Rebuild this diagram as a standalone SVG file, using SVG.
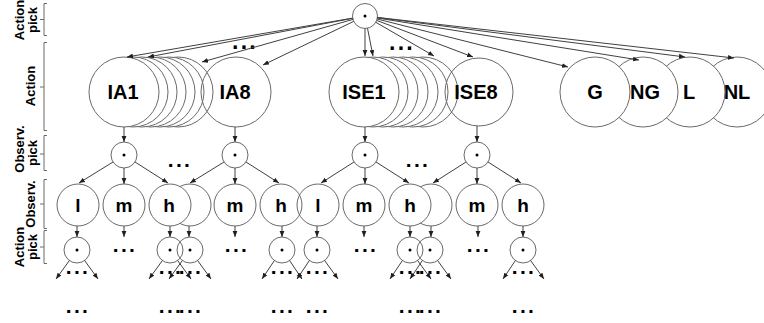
<svg xmlns="http://www.w3.org/2000/svg" width="764" height="323" viewBox="0 0 764 323">
  <style>
    .c { fill: #ffffff; stroke: #6a6a6a; stroke-width: 1; }
    .o { fill: none; stroke: #6a6a6a; stroke-width: 1; }
    .ln { fill: none; stroke: #404040; stroke-width: 1; marker-end: url(#ah); }
    .br { fill: none; stroke: #6a6a6a; stroke-width: 1; }
    .dot { fill: #000000; }
    .big { font-family: "Liberation Sans", Arial, sans-serif; font-weight: bold; font-size: 20px; text-anchor: middle; fill: #000; }
    .mid { font-family: "Liberation Sans", Arial, sans-serif; font-weight: bold; font-size: 19px; text-anchor: middle; fill: #000; }
    .lab { font-family: "Liberation Sans", Arial, sans-serif; font-weight: bold; font-size: 13px; text-anchor: middle; fill: #000; }
    .el { font-family: "Liberation Sans", Arial, sans-serif; font-weight: bold; font-size: 21px; letter-spacing: 2.4px; text-anchor: middle; fill: #000; }
    .elb { font-family: "Liberation Sans", Arial, sans-serif; font-weight: bold; font-size: 23px; letter-spacing: 2.2px; text-anchor: middle; fill: #000; }
  </style>
  <defs>
    <marker id="ah" viewBox="0 0 6 6" refX="6" refY="3" markerWidth="6" markerHeight="6" markerUnits="userSpaceOnUse" orient="auto">
      <path d="M0,0.6 L6,3 L0,5.4 Z" fill="#202020"/>
    </marker>
  </defs>

  <!-- level labels with brackets -->
  <g id="labels">
    <text class="lab" transform="translate(24,20) rotate(-90)">Action</text>
    <text class="lab" transform="translate(37,20) rotate(-90)">pick</text>
    <path class="br" d="M47,3.5 H44 V35.5 H47 M44,19.5 H40"/>

    <text class="lab" transform="translate(35,86) rotate(-90)">Action</text>
    <path class="br" d="M47,42.5 H44 V130.5 H47 M44,87 H40"/>

    <text class="lab" transform="translate(24,149) rotate(-90)">Observ.</text>
    <text class="lab" transform="translate(37,153) rotate(-90)">pick</text>
    <path class="br" d="M47,135.5 H44 V170.5 H47 M44,154 H40"/>

    <text class="lab" transform="translate(35,204) rotate(-90)">Observ.</text>
    <path class="br" d="M47,179.5 H44 V228.5 H47 M44,204 H40"/>

    <text class="lab" transform="translate(24,247) rotate(-90)">Action</text>
    <text class="lab" transform="translate(37,247) rotate(-90)">pick</text>
    <path class="br" d="M47,230.5 H44 V263.5 H47 M44,247 H40"/>
  </g>

  <!-- root action pick -->
  <g id="root">
    <circle class="c" cx="365" cy="16" r="12.5"/>
    <circle class="dot" cx="365" cy="16" r="1.5"/>
  </g>

  <!-- action nodes -->
  <g id="ia-stack">
    <circle class="c" cx="178" cy="92" r="35"/>
    <circle class="c" cx="169" cy="92" r="35"/>
    <circle class="c" cx="160" cy="92" r="35"/>
    <circle class="c" cx="151" cy="92" r="35"/>
    <circle class="c" cx="142" cy="92" r="35"/>
    <circle class="c" cx="133" cy="92" r="35"/>
  </g>
  <g id="IA1">
    <circle class="c" cx="124" cy="92" r="35"/>
    <text class="big" x="123" y="99">IA1</text>
  </g>
  <g id="IA8">
    <circle class="o" cx="236" cy="92" r="35"/>
    <text class="big" x="235" y="99">IA8</text>
  </g>

  <g id="ise-stack">
    <circle class="c" cx="423" cy="92" r="35"/>
    <circle class="c" cx="413" cy="92" r="35"/>
    <circle class="c" cx="403" cy="92" r="35"/>
    <circle class="c" cx="393" cy="92" r="35"/>
    <circle class="c" cx="383" cy="92" r="35"/>
    <circle class="c" cx="373" cy="92" r="35"/>
  </g>
  <g id="ISE1">
    <circle class="c" cx="364" cy="92" r="35"/>
    <text class="big" x="364" y="99">ISE1</text>
  </g>
  <g id="ISE8">
    <circle class="o" cx="479" cy="92" r="34"/>
    <text class="big" x="476" y="99">ISE8</text>
  </g>

  <g id="NL">
    <circle class="c" cx="737" cy="92" r="35"/>
    <text class="big" x="737" y="99">NL</text>
  </g>
  <g id="L">
    <circle class="c" cx="690" cy="92" r="35"/>
    <text class="big" x="689" y="99">L</text>
  </g>
  <g id="NG">
    <circle class="c" cx="643" cy="92" r="35"/>
    <text class="big" x="645" y="99">NG</text>
  </g>
  <g id="G">
    <circle class="c" cx="595" cy="92" r="35"/>
    <text class="big" x="595" y="99">G</text>
  </g>

  <!-- observation picks -->
  <g id="op-IA1"><circle class="c" cx="124" cy="155" r="13"/><circle class="dot" cx="124" cy="155" r="1.5"/></g>
  <g id="op-IA8"><circle class="c" cx="235" cy="155" r="13"/><circle class="dot" cx="235" cy="155" r="1.5"/></g>
  <g id="op-ISE1"><circle class="c" cx="365" cy="155" r="13"/><circle class="dot" cx="365" cy="155" r="1.5"/></g>
  <g id="op-ISE8"><circle class="c" cx="477" cy="155" r="13"/><circle class="dot" cx="477" cy="155" r="1.5"/></g>

  <!-- observations -->
  <g id="ob-IA1-l"><circle class="c" cx="78" cy="205" r="21"/><text class="mid" x="78" y="212">l</text></g>
  <g id="ob-IA1-m"><circle class="c" cx="124" cy="205" r="21"/><text class="mid" x="124" y="212">m</text></g>
  <g id="ob-IA8-l"><circle class="c" cx="190" cy="205" r="21"/></g>
  <g id="ob-IA1-h"><circle class="c" cx="170" cy="205" r="21"/><text class="mid" x="169" y="212">h</text></g>
  <g id="ob-IA8-m"><circle class="c" cx="235" cy="205" r="21"/><text class="mid" x="235" y="212">m</text></g>
  <g id="ob-ISE1-l"><circle class="c" cx="318" cy="205" r="21"/><text class="mid" x="318" y="212">l</text></g>
  <g id="ob-IA8-h"><circle class="o" cx="281" cy="205" r="21"/><text class="mid" x="281" y="212">h</text></g>
  <g id="ob-ISE1-m"><circle class="c" cx="364" cy="205" r="21"/><text class="mid" x="364" y="212">m</text></g>
  <g id="ob-ISE8-l"><circle class="c" cx="431" cy="205" r="21"/></g>
  <g id="ob-ISE1-h"><circle class="c" cx="410" cy="205" r="21"/><text class="mid" x="410" y="212">h</text></g>
  <g id="ob-ISE8-m"><circle class="c" cx="477" cy="205" r="21"/><text class="mid" x="477" y="212">m</text></g>
  <g id="ob-ISE8-h"><circle class="c" cx="523" cy="205" r="21"/><text class="mid" x="523" y="212">h</text></g>

  <!-- next action picks -->
  <g id="ap-IA1-l"><circle class="c" cx="77" cy="250" r="13"/><circle class="dot" cx="77" cy="250" r="1.5"/></g>
  <g id="ap-IA8-l"><circle class="o" cx="190" cy="250" r="13"/><circle class="dot" cx="190" cy="250" r="1.5"/></g>
  <g id="ap-IA1-h"><circle class="o" cx="170" cy="250" r="13"/><circle class="dot" cx="170" cy="250" r="1.5"/></g>
  <g id="ap-IA8-h"><circle class="c" cx="282" cy="250" r="13"/><circle class="dot" cx="282" cy="250" r="1.5"/></g>
  <g id="ap-ISE1-l"><circle class="c" cx="317" cy="250" r="13"/><circle class="dot" cx="317" cy="250" r="1.5"/></g>
  <g id="ap-ISE8-l"><circle class="o" cx="430" cy="250" r="13"/><circle class="dot" cx="430" cy="250" r="1.5"/></g>
  <g id="ap-ISE1-h"><circle class="o" cx="410" cy="250" r="13"/><circle class="dot" cx="410" cy="250" r="1.5"/></g>
  <g id="ap-ISE8-h"><circle class="c" cx="523" cy="250" r="13"/><circle class="dot" cx="523" cy="250" r="1.5"/></g>

  <!-- elided branches -->
  <g id="ellipses">
    <text class="elb" x="245" y="49">...</text>
    <text class="elb" x="402" y="50">...</text>
    <text class="el" x="180" y="167">...</text>
    <text class="el" x="418" y="167">...</text>
    <text class="el" x="125" y="252">...</text>
    <text class="el" x="237" y="252">...</text>
    <text class="el" x="366" y="252">...</text>
    <text class="el" x="479" y="252">...</text>
    <text class="el" x="78" y="274">...</text>
    <text class="el" x="171" y="274">...</text>
    <text class="el" x="191" y="274">...</text>
    <text class="el" x="283" y="274">...</text>
    <text class="el" x="318" y="274">...</text>
    <text class="el" x="411" y="274">...</text>
    <text class="el" x="431" y="274">...</text>
    <text class="el" x="524" y="274">...</text>
    <text class="el" x="78" y="313">...</text>
    <text class="el" x="171" y="313">...</text>
    <text class="el" x="191" y="313">...</text>
    <text class="el" x="283" y="313">...</text>
    <text class="el" x="318" y="313">...</text>
    <text class="el" x="411" y="313">...</text>
    <text class="el" x="431" y="313">...</text>
    <text class="el" x="524" y="313">...</text>
  </g>

  <!-- connectors -->
  <g id="connectors">
    <!-- root to actions -->
    <line class="ln" x1="352.7" y1="18.1" x2="127" y2="57"/>
    <line class="ln" x1="352.7" y1="18.3" x2="148" y2="57"/>
    <line class="ln" x1="353" y1="19.4" x2="202" y2="62"/>
    <line class="ln" x1="353.7" y1="21.4" x2="263" y2="65"/>
    <line class="ln" x1="365" y1="28.5" x2="365" y2="56"/>
    <line class="ln" x1="367.5" y1="28.3" x2="373" y2="56"/>
    <line class="ln" x1="375.8" y1="22.3" x2="434" y2="56"/>
    <line class="ln" x1="376.7" y1="20.4" x2="473" y2="57"/>
    <line class="ln" x1="377.1" y1="19" x2="568" y2="67"/>
    <line class="ln" x1="377.3" y1="18" x2="639" y2="60"/>
    <line class="ln" x1="377.4" y1="17.6" x2="685" y2="57"/>
    <line class="ln" x1="377.4" y1="17.4" x2="734" y2="58"/>

    <!-- actions to observation picks -->
    <line class="ln" x1="124" y1="127" x2="124" y2="142"/>
    <line class="ln" x1="235" y1="127" x2="235" y2="142"/>
    <line class="ln" x1="365" y1="127" x2="365" y2="142"/>
    <line class="ln" x1="477" y1="126" x2="477" y2="142"/>

    <!-- observation picks to observations -->
    <line class="ln" x1="113" y1="162" x2="79" y2="183"/>
    <line class="ln" x1="124" y1="168" x2="124" y2="184"/>
    <line class="ln" x1="135" y1="162" x2="168" y2="183"/>
    <line class="ln" x1="224" y1="162" x2="190" y2="183"/>
    <line class="ln" x1="235" y1="168" x2="235" y2="184"/>
    <line class="ln" x1="246" y1="162" x2="279" y2="183"/>
    <line class="ln" x1="354" y1="162" x2="321" y2="183"/>
    <line class="ln" x1="365" y1="168" x2="365" y2="184"/>
    <line class="ln" x1="376" y1="162" x2="409" y2="183"/>
    <line class="ln" x1="466" y1="162" x2="433" y2="183"/>
    <line class="ln" x1="477" y1="168" x2="477" y2="184"/>
    <line class="ln" x1="488" y1="162" x2="521" y2="183"/>

    <!-- observations to next action picks -->
    <line class="ln" x1="77" y1="226" x2="77" y2="237"/>
    <line class="ln" x1="124" y1="226" x2="124" y2="237"/>
    <line class="ln" x1="170" y1="226" x2="170" y2="237"/>
    <line class="ln" x1="189" y1="226" x2="189" y2="237"/>
    <line class="ln" x1="235" y1="226" x2="235" y2="237"/>
    <line class="ln" x1="282" y1="226" x2="282" y2="237"/>
    <line class="ln" x1="317" y1="226" x2="317" y2="237"/>
    <line class="ln" x1="364" y1="226" x2="364" y2="237"/>
    <line class="ln" x1="410" y1="226" x2="410" y2="237"/>
    <line class="ln" x1="431" y1="226" x2="431" y2="237"/>
    <line class="ln" x1="478" y1="226" x2="478" y2="237"/>
    <line class="ln" x1="523" y1="226" x2="523" y2="237"/>

    <!-- action picks fanning out -->
    <line class="ln" x1="69.4" y1="260.5" x2="56" y2="279"/>
    <line class="ln" x1="84.6" y1="260.5" x2="98" y2="279"/>
    <line class="ln" x1="162.4" y1="260.5" x2="149" y2="279"/>
    <line class="ln" x1="177.6" y1="260.5" x2="191" y2="279"/>
    <line class="ln" x1="182.4" y1="260.5" x2="169" y2="279"/>
    <line class="ln" x1="197.6" y1="260.5" x2="211" y2="279"/>
    <line class="ln" x1="274.4" y1="260.5" x2="262" y2="279"/>
    <line class="ln" x1="289.6" y1="260.5" x2="302" y2="279"/>
    <line class="ln" x1="309.4" y1="260.5" x2="297" y2="279"/>
    <line class="ln" x1="324.6" y1="260.5" x2="338" y2="279"/>
    <line class="ln" x1="402.4" y1="260.5" x2="390" y2="279"/>
    <line class="ln" x1="417.6" y1="260.5" x2="431" y2="279"/>
    <line class="ln" x1="422.4" y1="260.5" x2="410" y2="279"/>
    <line class="ln" x1="437.6" y1="260.5" x2="451" y2="279"/>
    <line class="ln" x1="515.4" y1="260.5" x2="503" y2="279"/>
    <line class="ln" x1="530.6" y1="260.5" x2="544" y2="279"/>
  </g>
</svg>
